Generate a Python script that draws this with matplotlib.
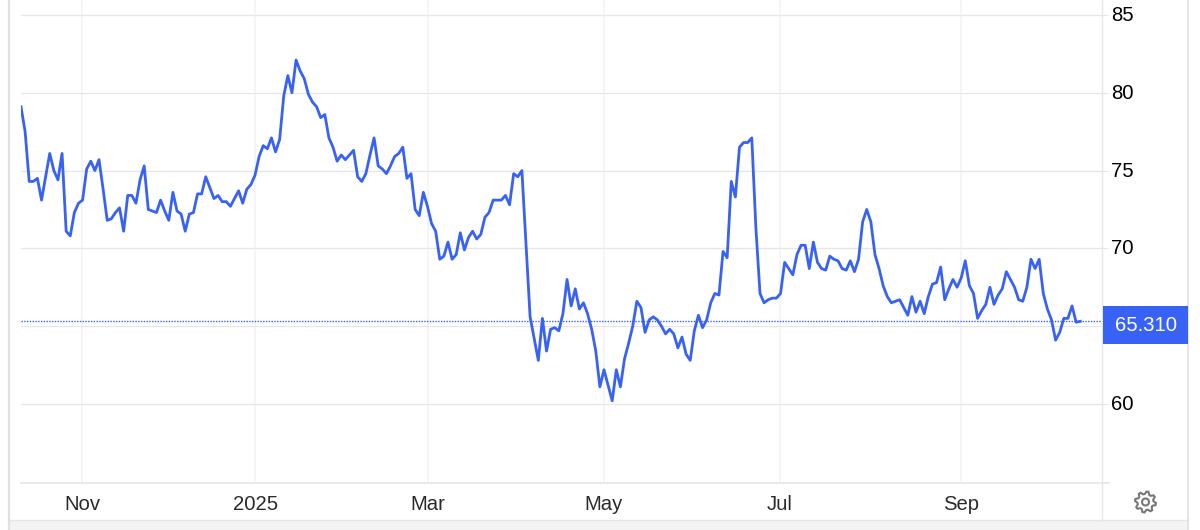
import matplotlib

matplotlib.use("Agg")

import matplotlib.pyplot as plt
import numpy as np
from matplotlib.patches import Circle, Polygon, Rectangle
from matplotlib.transforms import ScaledTranslation

plt.rcParams["font.family"] = ["Liberation Sans", "DejaVu Sans"]

MONTH_LABELS = ["Nov", "2025", "Mar", "May", "Jul", "Sep"]
MONTH_POSITIONS = [14.9, 57.1, 99.2, 141.9, 184.9, 228.9]
PRICE_TICKS = [60, 65, 70, 75, 80, 85]
# the 65 label sits behind the last price box in the reference
PRICE_LABELS = ["60", "", "70", "75", "80", "85"]
LAST_PRICE = 65.31

PRICES = [
    79.1, 77.5, 74.3, 74.3, 74.5, 73.1, 74.6, 76.1, 75.0, 74.4,
    76.1, 71.1, 70.8, 72.3, 72.9, 73.1, 75.1, 75.6, 75.0, 75.7,
    73.8, 71.8, 71.9, 72.3, 72.6, 71.1, 73.4, 73.4, 72.9, 74.4,
    75.3, 72.5, 72.4, 72.3, 73.1, 72.4, 71.8, 73.6, 72.4, 72.2,
    71.1, 72.2, 72.3, 73.5, 73.5, 74.6, 73.9, 73.2, 73.4, 73.0,
    73.0, 72.7, 73.2, 73.7, 72.9, 73.8, 74.1, 74.7, 75.9, 76.6,
    76.4, 77.1, 76.2, 77.0, 79.8, 81.1, 80.0, 82.1, 81.4, 80.9,
    79.9, 79.4, 79.1, 78.4, 78.6, 77.1, 76.5, 75.6, 76.0, 75.7,
    76.0, 76.3, 74.6, 74.3, 74.8, 76.0, 77.1, 75.3, 75.1, 74.8,
    75.3, 75.9, 76.1, 76.5, 74.5, 74.8, 72.5, 72.1, 73.6, 72.7,
    71.6, 71.1, 69.3, 69.5, 70.4, 69.3, 69.6, 71.0, 69.9, 70.7,
    71.1, 70.6, 70.9, 72.0, 72.3, 73.1, 73.1, 73.1, 73.4, 72.8,
    74.8, 74.6, 75.0, 70.3, 65.6, 64.2, 62.8, 65.5, 63.4, 64.8,
    64.9, 64.7, 65.8, 68.0, 66.3, 67.4, 66.1, 66.5, 65.8, 64.8,
    63.4, 61.1, 62.2, 61.2, 60.2, 62.2, 61.1, 62.9, 63.9, 65.0,
    66.6, 66.2, 64.6, 65.4, 65.6, 65.4, 65.0, 64.5, 64.8, 64.5,
    63.6, 64.3, 63.2, 62.8, 64.7, 65.7, 64.9, 65.4, 66.5, 67.1,
    67.0, 69.8, 69.4, 74.3, 73.3, 76.5, 76.8, 76.8, 77.1, 71.3,
    67.1, 66.5, 66.7, 66.8, 66.8, 67.1, 69.1, 68.7, 68.3, 69.6,
    70.2, 70.2, 68.7, 70.4, 69.1, 68.7, 68.6, 69.5, 69.3, 69.2,
    68.7, 68.6, 69.2, 68.5, 69.3, 71.7, 72.5, 71.7, 69.6, 68.7,
    67.6, 66.9, 66.5, 66.6, 66.7, 66.2, 65.7, 66.9, 65.9, 66.6,
    65.8, 66.9, 67.7, 67.8, 68.8, 66.7, 67.4, 68.0, 67.5, 68.1,
    69.2, 67.6, 67.1, 65.5, 66.0, 66.4, 67.5, 66.4, 67.0, 67.4,
    68.5, 68.0, 67.5, 66.7, 66.6, 67.5, 69.3, 68.7, 69.3, 67.1,
    66.1, 65.4, 64.1, 64.6, 65.5, 65.5, 66.3, 65.25, 65.31,
]

BLUE = "#3861f6"
GRID_GREY = "#e6e6e6"
GRID_PALE = "#f0f3f8"
FONT_SIZE = 14.6


def draw_frame(fig):
    """Panel borders, footer band and gear icon, in pixel coordinates."""
    frame = fig.add_axes([0, 0, 1, 1])
    frame.set_xlim(0, 1200)
    frame.set_ylim(530, 0)
    frame.axis("off")
    # on top of the chart, so the price box covers the 65 tick
    frame.set_zorder(5)

    frame.add_patch(Rectangle((10, 520), 1178, 10, color="#f3f3f3", lw=0))
    frame.plot([10, 1188], [520, 520], color=GRID_GREY, lw=1)
    frame.plot([9, 9], [0, 530], color="#e0e0e0", lw=1.6)
    frame.plot([1188, 1188], [0, 530], color="#e0e0e0", lw=1.2)
    frame.plot([1102, 1102], [0, 520], color=GRID_GREY, lw=1)
    frame.plot([21, 1109], [483, 483], color=GRID_GREY, lw=1.2)

    # gear outline
    teeth = 8
    angles = np.linspace(0, 2 * np.pi, teeth * 4, endpoint=False) + np.pi / teeth / 4
    radii = np.tile([10.5, 10.5, 8, 8], teeth)
    gear = np.column_stack(
        [1145.5 + radii * np.cos(angles), 502 + radii * np.sin(angles)]
    )
    frame.add_patch(Polygon(gear, closed=True, fill=False, ec="#777777", lw=1.5))
    frame.add_patch(Circle((1145.5, 502), 3.5, fill=False, ec="#777777", lw=1.5))

    # box with the last price
    frame.add_patch(Rectangle((1103, 306), 85, 38, color=BLUE, lw=0, zorder=4))
    frame.text(1145.5, 325.5, f"{LAST_PRICE:.3f}", color="white", fontsize=FONT_SIZE,
               ha="center", va="center", zorder=5)


def draw_chart(fig):
    ax = fig.add_axes([21 / 1200, 47 / 530, 1081 / 1200, 483 / 530])
    ax.patch.set_alpha(0)

    ax.plot(range(len(PRICES)), PRICES, color=BLUE, lw=2.0, solid_joinstyle="round",
            zorder=3)
    ax.axhline(LAST_PRICE, color=BLUE, lw=1.0, ls=(0, (1, 1)), zorder=2)

    ax.set_xlim(0, 263.3)
    ax.set_ylim(54.92, 85.96)

    ax.set_xticks(MONTH_POSITIONS, MONTH_LABELS)
    ax.set_yticks(PRICE_TICKS, PRICE_LABELS)
    ax.yaxis.tick_right()
    ax.grid(axis="x", color=GRID_PALE, lw=1.1)
    ax.grid(axis="y", color=GRID_GREY, lw=0.9)
    ax.set_axisbelow(True)

    ax.tick_params(axis="x", length=0, pad=8.5, labelsize=FONT_SIZE, labelcolor="#2b2b2b")
    ax.tick_params(axis="y", length=4.5, width=0.8, color=GRID_GREY, pad=2,
                   labelsize=FONT_SIZE, labelcolor="#000000")
    # labels sit a little above their gridlines
    nudge = ScaledTranslation(0, 1.5 / 100, fig.dpi_scale_trans)
    for label in ax.get_yticklabels():
        label.set_transform(label.get_transform() + nudge)
    for spine in ax.spines.values():
        spine.set_visible(False)


def main():
    fig = plt.figure(figsize=(12, 5.3), dpi=100, facecolor="white")
    draw_frame(fig)
    draw_chart(fig)
    fig.savefig("out.png", dpi=100)
    plt.close(fig)


if __name__ == "__main__":
    main()
